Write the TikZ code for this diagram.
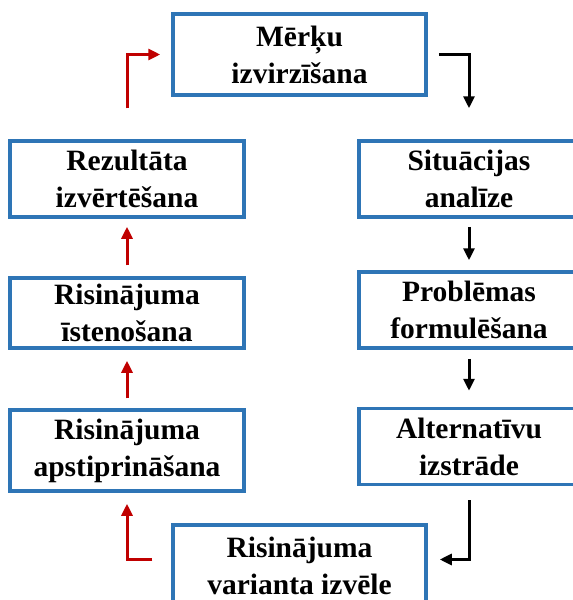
\documentclass[tikz,border=0pt]{standalone}
\usepackage{fontspec}
\setmainfont{Liberation Serif}
\usetikzlibrary{arrows.meta}
\definecolor{boxblue}{RGB}{46,117,182}
\definecolor{arrred}{RGB}{192,0,0}
\tikzset{
  >={Triangle[length=12pt,width=11pt]},
  stage/.style={draw=boxblue, line width=3.5pt, rectangle, align=center,
    inner sep=0pt, font=\fontsize{29.5}{37}\selectfont\bfseries},
  fwd/.style={->, line width=3pt, black},
  back/.style={->, line width=3pt, arrred},
}

\begin{document}
\begin{tikzpicture}[x=1pt, y=-1pt]
    \useasboundingbox (0,0) rectangle (573,600);
    \clip (0,0) rectangle (573,600);
    \node[stage, minimum width=253pt, minimum height=81pt] (goal) at (299.5,54.5) {Mērķu\\izvirzīšana};
    \node[stage, minimum width=220pt, minimum height=76pt] (sit)  at (469,179)   {Situācijas\\analīze};
    \node[stage, minimum width=220pt, minimum height=76pt] (prob) at (469,310)   {Problēmas\\formulēšana};
    \node[stage, minimum width=220pt, minimum height=76pt] (alt)  at (469,446.5) {Alternatīvu\\izstrāde};
    \node[stage, minimum width=253pt, minimum height=81pt] (var)  at (299.5,565.5){Risinājuma\\varianta izvēle};
    \node[stage, minimum width=234pt, minimum height=81pt] (apst) at (127,450.5) {Risinājuma\\apstiprināšana};
    \node[stage, minimum width=234pt, minimum height=70pt] (isten) at (127,313)  {Risinājuma\\īstenošana};
    \node[stage, minimum width=234pt, minimum height=76pt] (rez)  at (127,179)   {Rezultāta\\izvērtēšana};
    % black arrows, right side
    \draw[fwd, shorten <=11pt, shorten >=31pt] (goal.east) -| (sit.north);
    \draw[fwd, shorten <=8pt,  shorten >=10pt] (sit.south) -- (prob.north);
    \draw[fwd, shorten <=9pt,  shorten >=16pt] (prob.south) -- (alt.north);
    \draw[fwd, shorten <=14pt, shorten >=12pt] (alt.south) |- ([yshift=6pt]var.east);
    % red arrows, left side
    \draw[back, shorten <=19pt, shorten >=11pt] ([yshift=6pt]var.west) -| (apst.south);
    \draw[back, shorten <=10pt, shorten >=11pt] (apst.north) -- (isten.south);
    \draw[back, shorten <=11pt, shorten >=8pt]  (isten.north) -- (rez.south);
    \draw[back, shorten <=31pt, shorten >=11pt] (rez.north) |- (goal.west);
  \end{tikzpicture}
\end{document}
